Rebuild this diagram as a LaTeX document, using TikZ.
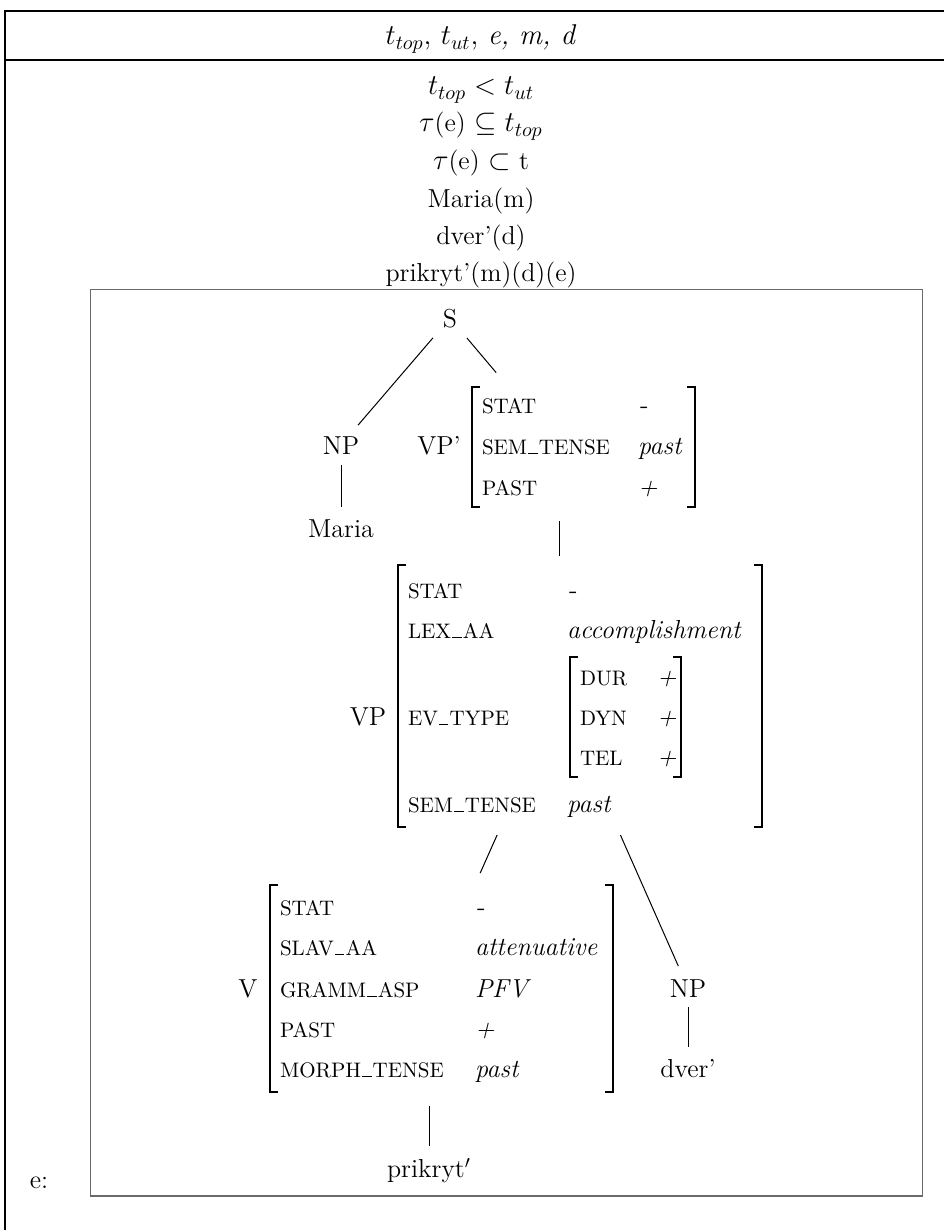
\documentclass[tikz,border=0pt]{standalone}
\usetikzlibrary{fit}
\definecolor{boxgray}{HTML}{6A6A6A}
% bracket pair drawn on the border of a fitted AVM node
\newcommand\avmbrackets[1]{%
  \draw[brk] ([xshift=4pt]#1.north west) -- (#1.north west) -- (#1.south west) -- ([xshift=4pt]#1.south west);
  \draw[brk] ([xshift=-4pt]#1.north east) -- (#1.north east) -- (#1.south east) -- ([xshift=-4pt]#1.south east);}
% short low line joining the parts of a feature name
\newcommand\lowbar{\kern0.6pt\rule{4.6pt}{0.45pt}\kern0.6pt}
% formulas set a little larger than the surrounding text
\newcommand\fm[1]{{\fontsize{14.6}{17}\selectfont$#1$}}
\begin{document}
\begin{tikzpicture}[x=0.5pt,y=-0.5pt,
  every node/.style={inner sep=0pt, outer sep=0pt},
  txt/.style={font=\fontsize{13}{15}\selectfont, anchor=base},
  cat/.style={font=\fontsize{13}{15}\selectfont, text height=9pt, text depth=0pt, anchor=center},
  feat/.style={font=\fontsize{10.5}{12}\selectfont, anchor=base west},
  val/.style={font=\fontsize{13}{15}\selectfont\itshape, anchor=base west},
  hub/.style={inner sep=0pt, minimum size=0pt},
  avm/.style={inner sep=0pt},
  brk/.style={line width=1pt, line join=miter},
  edge/.style={line width=0.5pt},
  frame/.style={line width=0.65pt},
  dom/.style={line width=0.75pt, draw=boxgray}]
\useasboundingbox (0,0) rectangle (943,1230);

% outer frame: universe row and condition area
\draw[frame] (5,1240) -- (5,11) -- (960,11);
\draw[frame] (5,60) -- (960,60);
\node[txt, font=\fontsize{14.3}{17}\selectfont] (head) at (481,45) {$t_{top}$, $t_{ut}$, \textit{e, m, d}};

% conditions
\node[txt] (c1) at (481,95) {\fm{t_{top} < t_{ut}}};
\node[txt] (c2) at (481,132) {\fm{\tau}(e) \fm{\subseteq t_{top}}};
\node[txt] (c3) at (481,170) {\fm{\tau}(e) \fm{\subset} t};
\node[txt] (c4) at (481,207) {Maria(m)};
\node[txt] (c5) at (481,244) {dver’(d)};
\node[txt] (c6) at (481,281) {prikryt’(m)(d)(e)};

% embedded box holding the tree
\draw[dom] (90.7,289.3) rectangle (922.7,1196);
\node[txt] (elab) at (39,1188) {e:};

% ---- tree nodes ----
\node[cat] (S) at (450,318) {S};
\node[cat] (NPa) at (341,445) {NP};
\node[cat] (Maria) at (341,528) {Maria};

% VP' with its feature structure
\node[txt] (VPplab) at (439,454) {VP’};
\node[avm, fit={(472,387) (695,507)}] (VPpavm) {};
\avmbrackets{VPpavm}
\node[feat] (vpp1) at (482,413) {STAT};
\node[feat] (vpp2) at (482,454) {SEM\lowbar TENSE};
\node[feat] (vpp3) at (482,495) {PAST};
\node[val] (vppv1) at (640,413) {\upshape -};
\node[val] (vppv2) at (638,454) {past};
\node[val] (vppv3) at (638,495) {+};
\node[hub] (VPp) at (559,447) {};

% VP with its feature structure
\node[txt] (VPlab) at (368,725) {VP};
\node[avm, fit={(398,565) (762,827)}] (VPavm) {};
\avmbrackets{VPavm}
\node[feat] (vp1) at (408,598) {STAT};
\node[feat] (vp2) at (408,638) {LEX\lowbar AA};
\node[feat] (vp3) at (408,725) {EV\lowbar TYPE};
\node[feat] (vp4) at (408,812) {SEM\lowbar TENSE};
\node[val] (vpv1) at (569,598) {\upshape -};
\node[val] (vpv2) at (567,638) {accomplishment};
\node[val] (vpv4) at (567,812) {past};
\node[avm, fit={(570,657) (681,777)}] (evavm) {};
\avmbrackets{evavm}
\node[feat] (ev1) at (580,685) {DUR};
\node[feat] (ev2) at (580,725) {DYN};
\node[feat] (ev3) at (580,765) {TEL};
\node[val] (evv1) at (657,685) {+};
\node[val] (evv2) at (657,725) {+};
\node[val] (evv3) at (657,765) {+};
\node[hub] (VP) at (559,696) {};

% V with its feature structure
\node[txt] (Vlab) at (248,997) {V};
\node[avm, fit={(270,885) (613,1092)}] (Vavm) {};
\avmbrackets{Vavm}
\node[feat] (v1) at (280,915) {STAT};
\node[feat] (v2) at (280,955) {SLAV\lowbar AA};
\node[feat] (v3) at (280,997) {GRAMM\lowbar ASP};
\node[feat] (v4) at (280,1037) {PAST};
\node[feat] (v5) at (280,1077) {MORPH\lowbar TENSE};
\node[val] (vv1) at (477,915) {\upshape -};
\node[val] (vv2) at (475,955) {attenuative};
\node[val] (vv3) at (475,997) {PFV};
\node[val] (vv4) at (475,1037) {+};
\node[val] (vv5) at (475,1077) {past};
\node[hub] (V) at (429,988) {};

\node[cat] (NPb) at (688,988) {NP};
\node[cat] (dver) at (688,1068) {dver’};
\node[cat] (prikryt) at (429,1168) {prikryt$'$};

% ---- branches ----
\draw[edge, shorten <=13.1pt, shorten >=13.1pt] (S.center) -- (NPa.center);
\draw[edge, shorten <=13.1pt, shorten >=48.7pt] (S.center) -- (VPp.center);
\draw[edge, shorten <=10pt, shorten >=10.5pt] (NPa.center) -- (Maria.center);
\draw[edge, shorten <=37pt, shorten >=70pt] (VPp.center) -- (VP.center);
\draw[edge, shorten <=76.1pt, shorten >=62.9pt] (VP.center) -- (V.center);
\draw[edge, shorten <=76pt, shorten >=12pt] (VP.center) -- (NPb.center);
\draw[edge, shorten <=9.5pt, shorten >=10.5pt] (NPb.center) -- (dver.center);
\draw[edge, shorten <=59pt, shorten >=11pt] (V.center) -- (prikryt.center);
\end{tikzpicture}
\end{document}
